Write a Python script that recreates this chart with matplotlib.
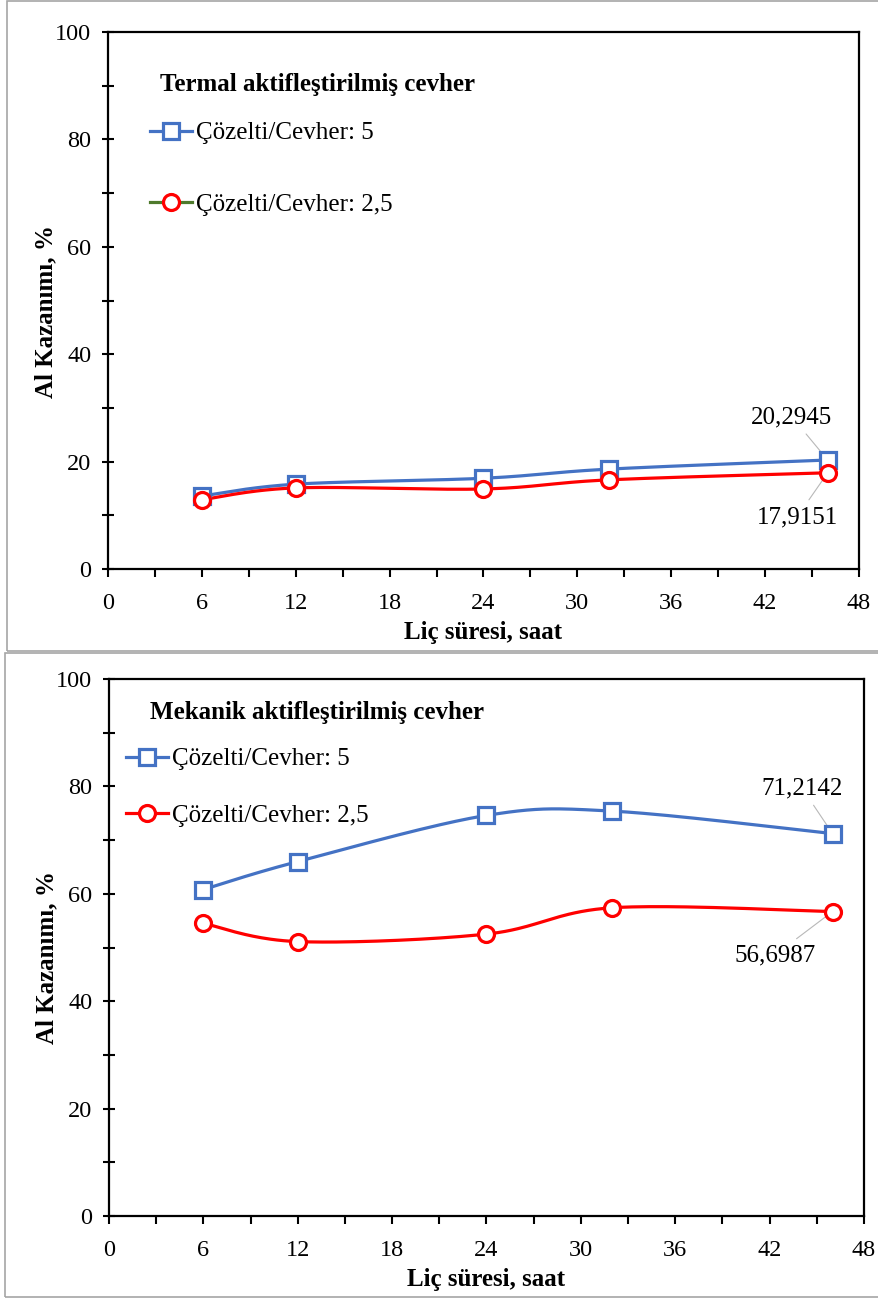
import numpy as np
import matplotlib
matplotlib.use("Agg")
import matplotlib.pyplot as plt
from matplotlib.lines import Line2D
from matplotlib.patches import Rectangle

# ---- data ----
hours = [6, 12, 24, 32, 46]
termal_5 = [13.6, 15.8, 16.9, 18.6, 20.2945]
termal_25 = [12.9, 15.1, 14.9, 16.6, 17.9151]
mekanik_5 = [60.8, 66.0, 74.6, 75.4, 71.2142]
mekanik_25 = [54.5, 51.1, 52.5, 57.4, 56.6987]
titles = ["Termal aktifleştirilmiş cevher", "Mekanik aktifleştirilmiş cevher"]
labels = ["Çözelti/Cevher: 5", "Çözelti/Cevher: 2,5"]
ann_5 = ["20,2945", "71,2142"]
ann_25 = ["17,9151", "56,6987"]
xticks = [0, 6, 12, 18, 24, 30, 36, 42, 48]
yticks = [0, 20, 40, 60, 80, 100]

BLUE = "#4472C4"
RED = "#FF0000"
GREEN = "#4E7A2C"
SERIF = "Liberation Serif"
plt.rcParams["font.family"] = SERIF
FS = 18
TFS = 17.5


def smooth(x, y, n=40):
    """Excel-like smoothed line (Catmull-Rom via cubic Bezier)."""
    x = np.asarray(x, float); y = np.asarray(y, float)
    P = np.column_stack([x, y])
    out = []
    for i in range(len(P) - 1):
        p0 = P[i - 1] if i > 0 else P[i]
        p1 = P[i]; p2 = P[i + 1]
        p3 = P[i + 2] if i + 2 < len(P) else P[i + 1]
        c1 = p1 + (p2 - p0) / 6.0
        c2 = p2 - (p3 - p1) / 6.0
        t = np.linspace(0, 1, n)[:, None]
        seg = ((1 - t) ** 3) * p1 + 3 * ((1 - t) ** 2) * t * c1 + 3 * (1 - t) * t ** 2 * c2 + t ** 3 * p2
        out.append(seg if i == 0 else seg[1:])
    s = np.vstack(out)
    return s[:, 0], s[:, 1]


W, H = 879, 1299
fig = plt.figure(figsize=(W / 100, H / 100), dpi=100)

# panel borders
fig.add_artist(Rectangle((7 / W, 1 - 651 / H), (W + 10) / W, 650 / H, transform=fig.transFigure,
                         fill=False, ec="#A6A6A6", lw=1.2))
fig.add_artist(Rectangle((5 / W, 1 - 1297 / H), (W + 10) / W, 644 / H, transform=fig.transFigure,
                         fill=False, ec="#A6A6A6", lw=1.2))

# pixel geometry: (left, top, width, height)
panels = [
    dict(px=(108, 32, 751, 537), s5=termal_5, s25=termal_25, title=titles[0],
         title_px=(160, 85), leg_px=(150, 122), leg_space=1.95, leg_red_line=GREEN,
         ann5_px=(792, 417), ann25_px=(797, 517), a5=ann_5[0], a25=ann_25[0],
         ylab_px=(57, 311)),
    dict(px=(109, 679, 755, 537), s5=mekanik_5, s25=mekanik_25, title=titles[1],
         title_px=(150, 712), leg_px=(126, 748), leg_space=1.35, leg_red_line=RED,
         ann5_px=(802, 788), ann25_px=(775, 955), a5=ann_5[1], a25=ann_25[1],
         ylab_px=(58, 958)),
]

for p in panels:
    l, t, w, h = p["px"]
    ax = fig.add_axes([l / W, 1 - (t + h) / H, w / W, h / H])

    def to_axes(xp, yp):
        return (xp - l) / w, 1 - (yp - t) / h

    sx, sy = smooth(hours, p["s5"])
    ax.plot(sx, sy, color=BLUE, lw=2.3, zorder=3)
    ax.plot(hours, p["s5"], ls="none", marker="s", ms=11.5, mfc="white", mec=BLUE, mew=2.3, zorder=4)
    sx, sy = smooth(hours, p["s25"])
    ax.plot(sx, sy, color=RED, lw=2.3, zorder=3)
    ax.plot(hours, p["s25"], ls="none", marker="o", ms=11.5, mfc="white", mec=RED, mew=2.3, zorder=4)

    ax.set_xlim(0, 48)
    ax.set_ylim(0, 100)
    ax.set_xticks(xticks)
    ax.set_xticks(np.arange(3, 48, 6), minor=True)
    ax.set_yticks(yticks)
    ax.set_yticks(np.arange(10, 100, 20), minor=True)
    ax.tick_params(axis="x", which="both", direction="out", length=6, width=1.5, labelsize=TFS, pad=11)
    ax.tick_params(axis="y", which="both", direction="inout", length=8, width=1.5, labelsize=TFS, pad=8)
    for sp in ax.spines.values():
        sp.set_linewidth(1.6)
    ax.set_xlabel("Liç süresi, saat", fontsize=FS, fontweight="bold", labelpad=5)
    ax.set_ylabel("Al Kazanımı, %", fontsize=FS, fontweight="bold")
    ax.yaxis.set_label_coords(*to_axes(*p["ylab_px"]))

    tx, ty = to_axes(*p["title_px"])
    ax.text(tx, ty, p["title"], transform=ax.transAxes,
            fontsize=FS, fontweight="bold", va="center", ha="left")

    h1 = Line2D([], [], color=BLUE, lw=2.3, marker="s", ms=11.5, mfc="white", mec=BLUE, mew=2.3)
    h2 = Line2D([], [], color=p["leg_red_line"], lw=2.3, marker="o", ms=11.5, mfc="white", mec=RED, mew=2.3)
    ax.legend([h1, h2], labels, loc="upper left", bbox_to_anchor=to_axes(*p["leg_px"]), frameon=False,
              fontsize=FS, handlelength=1.7, handletextpad=0.15, labelspacing=p["leg_space"],
              borderaxespad=0, borderpad=0)

    for yv, txt, pos in [(p["s5"][-1], p["a5"], p["ann5_px"]), (p["s25"][-1], p["a25"], p["ann25_px"])]:
        ax.annotate(txt, xy=(hours[-1], yv), xytext=to_axes(*pos), textcoords="axes fraction",
                    fontsize=FS, ha="center", va="center",
                    arrowprops=dict(arrowstyle="-", color="#B8B8B8", lw=0.8, shrinkA=3, shrinkB=2))

fig.savefig("out.png", dpi=100)
